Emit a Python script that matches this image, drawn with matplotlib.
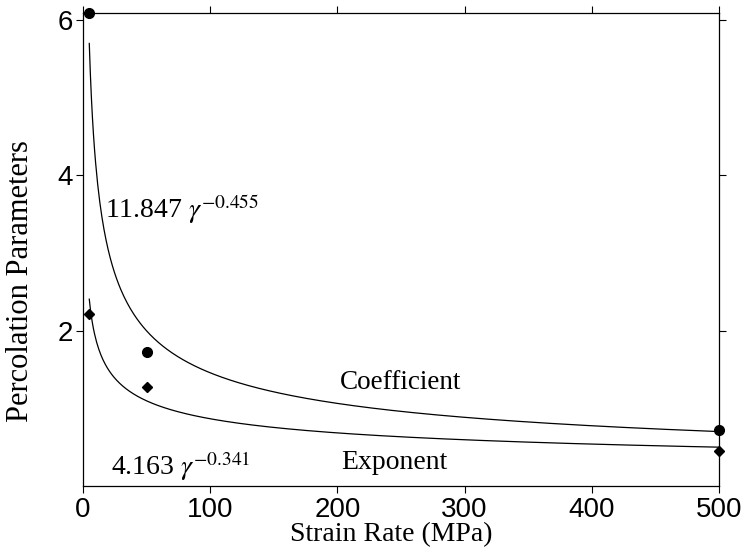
import numpy as np
import matplotlib
matplotlib.use("Agg")
import matplotlib.pyplot as plt

# Data
strain_rate = [5, 50, 500]
coefficient = [6.09, 1.72, 0.72]
exponent = [2.22, 1.27, 0.45]

# Fitted power laws (from the annotations)
coef_a, coef_b = 11.847, -0.455
expo_a, expo_b = 4.163, -0.341
fit_range = (5, 500)

xticks = [0, 100, 200, 300, 400, 500]
yticks = [2, 4, 6]

plt.rcParams['mathtext.fontset'] = 'stix'

fig = plt.figure(figsize=(7.47, 5.58), dpi=100)
ax = fig.add_axes([0.111, 0.129, 0.8515, 0.848])

xs = np.linspace(fit_range[0], fit_range[1], 600)
ax.plot(xs, coef_a * xs ** coef_b, color='black', lw=0.9)
ax.plot(xs, expo_a * xs ** expo_b, color='black', lw=0.9)

ax.plot(strain_rate, coefficient, 'o', color='black', ms=7, clip_on=False)
ax.plot(strain_rate, exponent, 'D', color='black', ms=5, clip_on=False)

ax.set_xlim(0, 500)
ax.set_ylim(0, 6.09)
ax.set_xticks(xticks)
ax.set_yticks(yticks)
ax.tick_params(direction='out', length=5, width=0.8, top=True, right=True,
               labelsize=20)
ax.tick_params(axis='x', pad=3)
ax.tick_params(axis='y', pad=2)
for lab in ax.get_xticklabels() + ax.get_yticklabels():
    lab.set_fontfamily('Liberation Sans')
for s in ax.spines.values():
    s.set_linewidth(0.9)

serif = 'Liberation Serif'
ax.set_xlabel('Strain Rate (MPa)', fontsize=20, family=serif)
ax.set_ylabel('Percolation Parameters', fontsize=22, family=serif)
ax.xaxis.set_label_coords(0.484, -0.076)
ax.yaxis.set_label_coords(-0.076, 0.433)

ax.text(17, 3.56, r'11.847 $\gamma^{-0.455}$', fontsize=20, family=serif,
        va='center', ha='left')
ax.text(22, 0.26, r'4.163 $\gamma^{-0.341}$', fontsize=20, family=serif,
        va='center', ha='left')
ax.text(250, 1.33, 'Coefficient', fontsize=19.5, family=serif, va='center', ha='center')
ax.text(245, 0.30, 'Exponent', fontsize=20, family=serif, va='center', ha='center')

fig.savefig('out.png', dpi=100)
